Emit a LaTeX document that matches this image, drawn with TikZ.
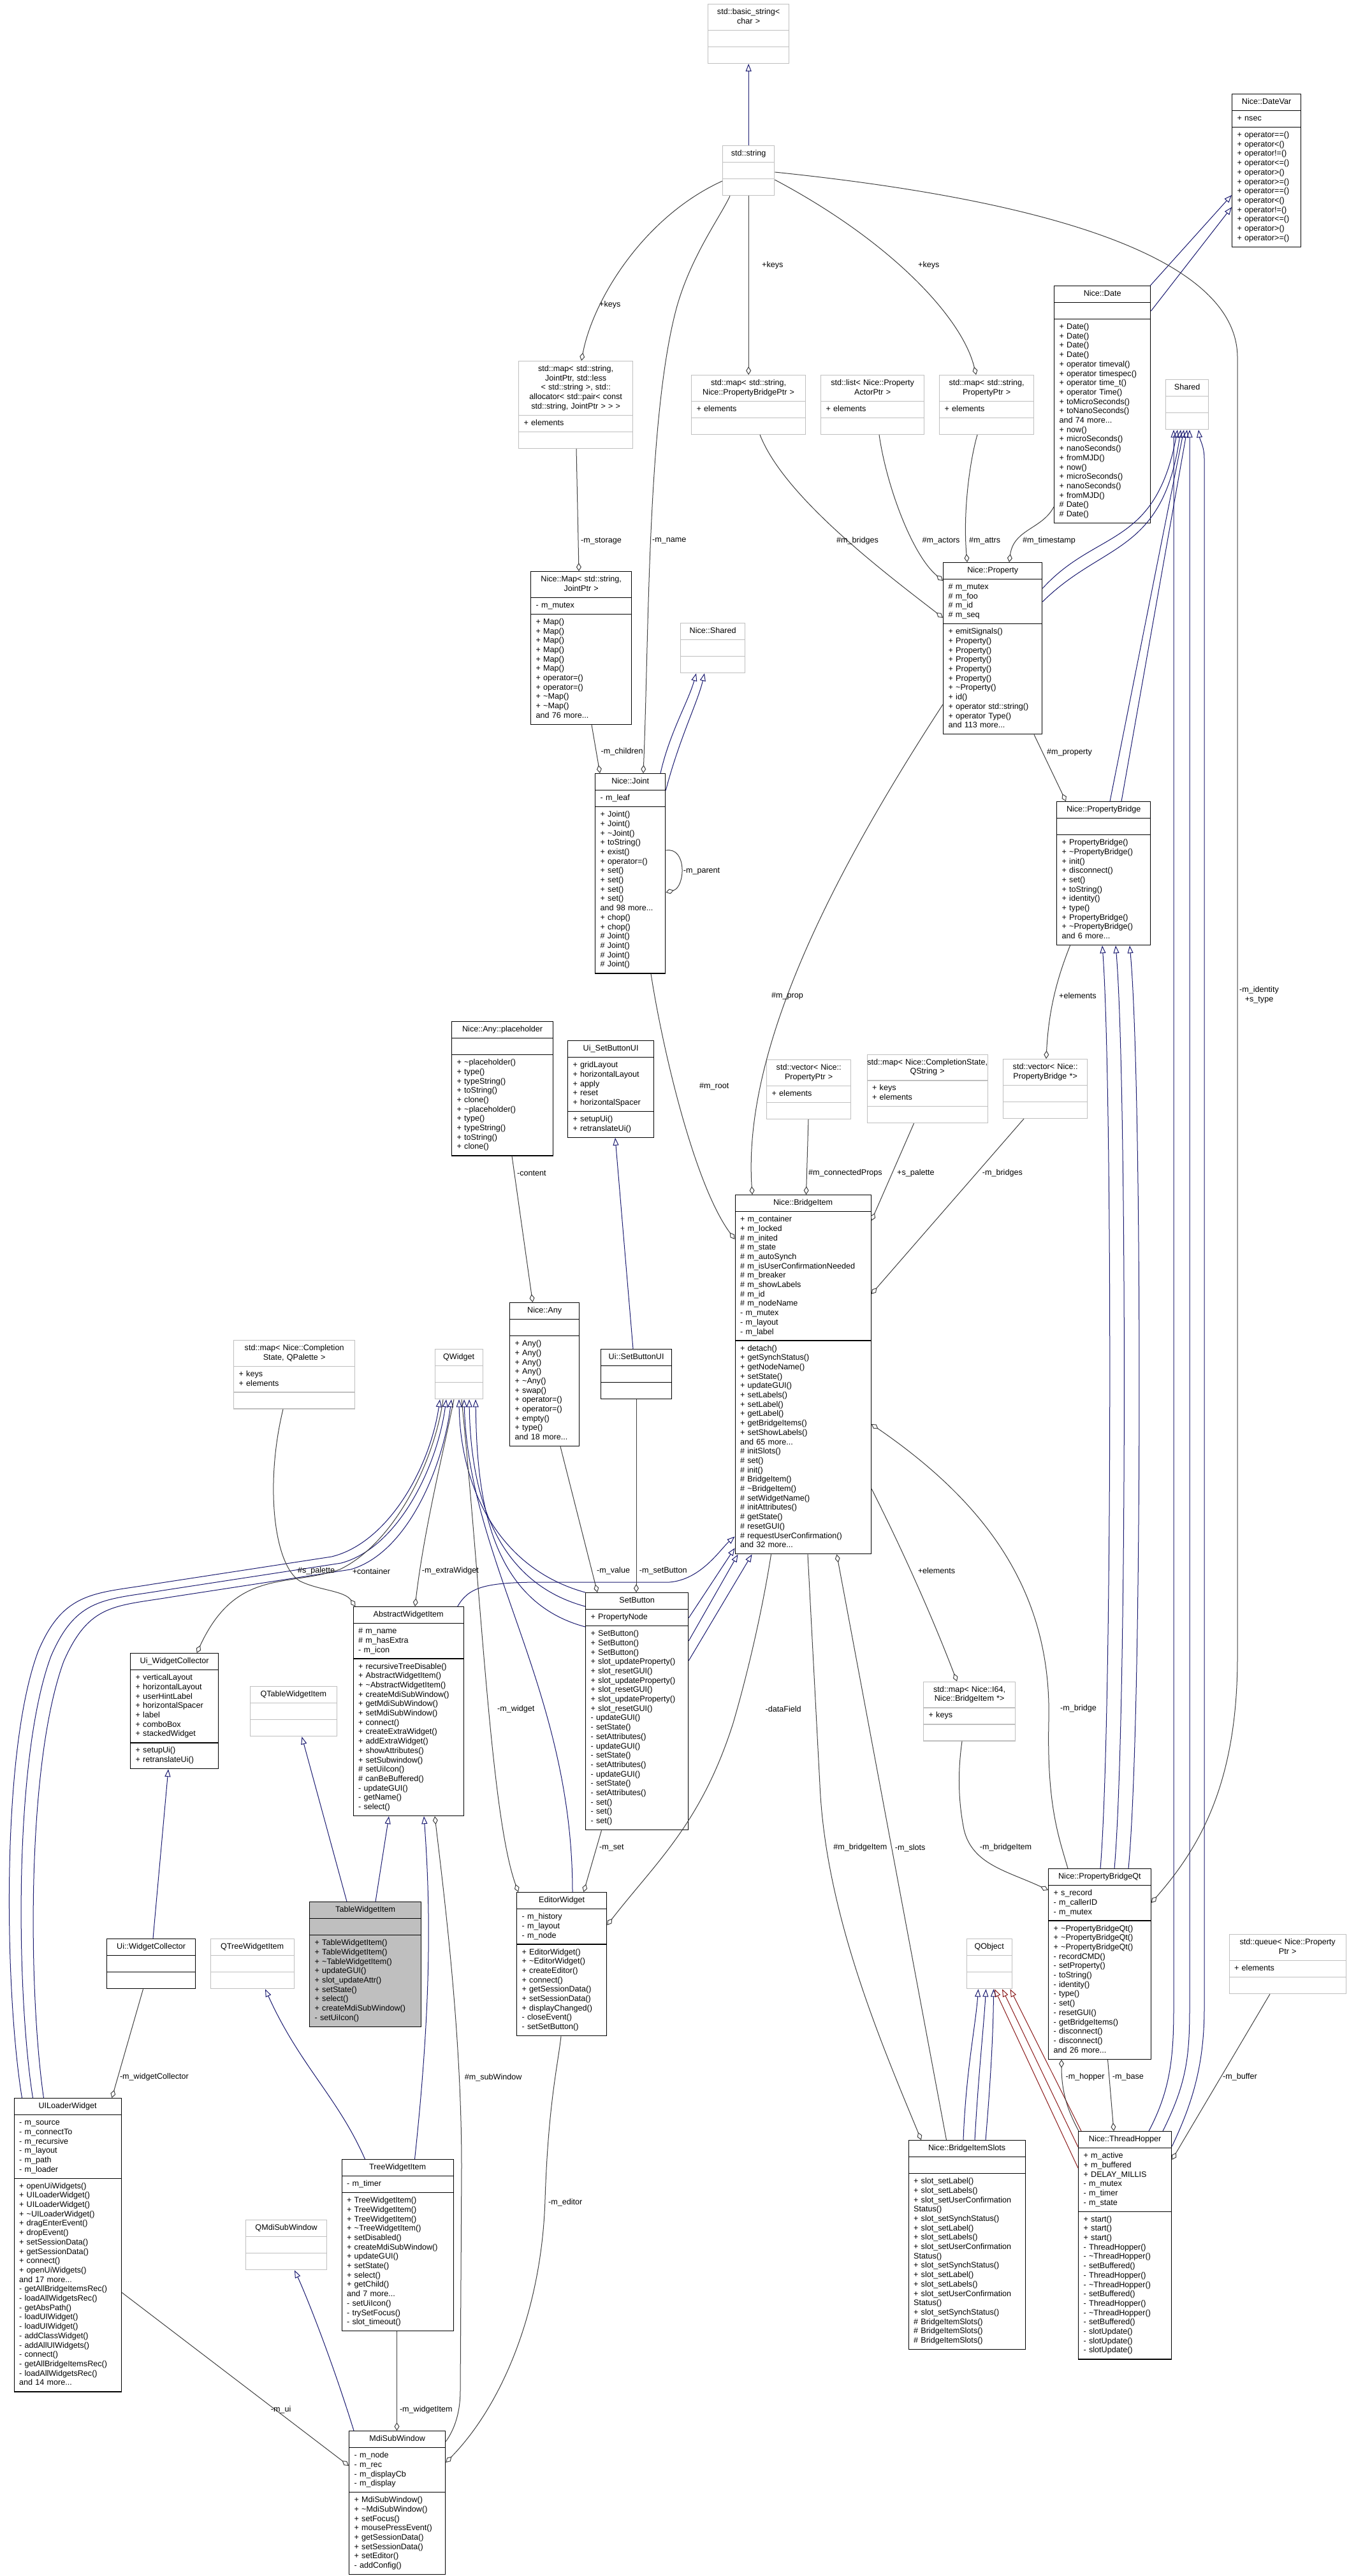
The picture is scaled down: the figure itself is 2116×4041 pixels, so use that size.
\documentclass[tikz,border=0pt]{standalone}
\usepackage{fontspec}
\setmainfont{Liberation Sans}
\usetikzlibrary{shapes.multipart}
\usetikzlibrary{arrows.meta}
\usetikzlibrary{calc}

\definecolor{grey75}{RGB}{191,191,191}
\definecolor{grey25}{RGB}{64,64,64}
\definecolor{midnightblue}{RGB}{25,25,112}
\definecolor{firebrick}{RGB}{139,26,26}
\newcommand{\cfont}{\fontsize{12.6}{14.7}\selectfont}
\newcommand{\tld}{\textasciitilde}
\newcommand{\hd}[1]{\makebox[\linewidth]{#1}}

\begin{document}
\begin{tikzpicture}[x=1pt, y=-1pt, font=\cfont]
\tikzset{
    cls/.style = {rectangle split, rectangle split parts=3, draw=black, line width=1.3pt,
        anchor=north west, text width=#1, align=left, inner xsep=8pt, inner ysep=5pt,
        execute at begin node=\strut, execute at end node=\strut},
    ext/.style = {cls=#1, draw=grey75},
    cur/.style = {cls=#1, fill=grey75},
    inh/.style = {-{Triangle[open,length=12pt,width=9pt]}, draw=midnightblue, line width=1pt},
    prv/.style = {-{Triangle[open,length=12pt,width=9pt]}, draw=firebrick, line width=1pt},
    use/.style = {{Diamond[open,length=13pt,width=8pt]}-, draw=grey25, line width=1pt},
    lbl/.style = {anchor=west, inner sep=0pt}
}
\fill[white] (0,0) rectangle (2116,4041);
\useasboundingbox (0,0) rectangle (2116,4041);

\node[ext=111pt] (basicstr) at (1110,6) {\hd{std::basic\_string<}\\\hd{char >}\nodepart{two}\nodepart{three}};
\node[ext=65pt] (stdstr) at (1133,228) {\hd{std::string}\nodepart{two}\nodepart{three}};
\node[cls=92pt] (datevar) at (1932,147) {\hd{Nice::DateVar}\nodepart{two}+ nsec\nodepart{three}+ operator==()\\+ operator<()\\+ operator!=()\\+ operator<=()\\+ operator>()\\+ operator>=()\\+ operator==()\\+ operator<()\\+ operator!=()\\+ operator<=()\\+ operator>()\\+ operator>=()};
\node[cls=135pt] (date) at (1653,448) {\hd{Nice::Date}\nodepart{two}\nodepart{three}+ Date()\\+ Date()\\+ Date()\\+ Date()\\+ operator timeval()\\+ operator timespec()\\+ operator time\_t()\\+ operator Time()\\+ toMicroSeconds()\\+ toNanoSeconds()\\and 74 more...\\+ now()\\+ microSeconds()\\+ nanoSeconds()\\+ fromMJD()\\+ now()\\+ microSeconds()\\+ nanoSeconds()\\+ fromMJD()\\\# Date()\\\# Date()};
\node[ext=51pt] (shared) at (1828,595) {\hd{Shared}\nodepart{two}\nodepart{three}};
\node[ext=163pt] (mapjoint) at (813,566) {\hd{std::map< std::string,}\\\hd{JointPtr, std::less}\\\hd{< std::string >, std::}\\\hd{allocator< std::pair< const}\\\hd{std::string, JointPtr > > >}\nodepart{two}+ elements\nodepart{three}};
\node[ext=163pt] (mappb) at (1084,588) {\hd{std::map< std::string,}\\\hd{Nice::PropertyBridgePtr >}\nodepart{two}+ elements\nodepart{three}};
\node[ext=146pt] (listact) at (1287,588) {\hd{std::list< Nice::Property}\\\hd{ActorPtr >}\nodepart{two}+ elements\nodepart{three}};
\node[ext=132pt] (mapprop) at (1473,588) {\hd{std::map< std::string,}\\\hd{PropertyPtr >}\nodepart{two}+ elements\nodepart{three}};
\node[cls=142pt] (nicemap) at (832,896) {\hd{Nice::Map< std::string,}\\\hd{JointPtr >}\nodepart{two}- m\_mutex\nodepart{three}+ Map()\\+ Map()\\+ Map()\\+ Map()\\+ Map()\\+ Map()\\+ operator=()\\+ operator=()\\+ \tld Map()\\+ \tld Map()\\and 76 more...};
\node[ext=85pt] (nshared) at (1067,977) {\hd{Nice::Shared}\nodepart{two}\nodepart{three}};
\node[cls=139pt] (property) at (1479,882) {\hd{Nice::Property}\nodepart{two}\# m\_mutex\\\# m\_foo\\\# m\_id\\\# m\_seq\nodepart{three}+ emitSignals()\\+ Property()\\+ Property()\\+ Property()\\+ Property()\\+ Property()\\+ \tld Property()\\+ id()\\+ operator std::string()\\+ operator Type()\\and 113 more...};
\node[cls=94pt] (joint) at (933,1213) {\hd{Nice::Joint}\nodepart{two}- m\_leaf\nodepart{three}+ Joint()\\+ Joint()\\+ \tld Joint()\\+ toString()\\+ exist()\\+ operator=()\\+ set()\\+ set()\\+ set()\\+ set()\\and 98 more...\\+ chop()\\+ chop()\\\# Joint()\\\# Joint()\\\# Joint()\\\# Joint()};
\node[cls=131pt] (pbridge) at (1657,1257) {\hd{Nice::PropertyBridge}\nodepart{two}\nodepart{three}+ PropertyBridge()\\+ \tld PropertyBridge()\\+ init()\\+ disconnect()\\+ set()\\+ toString()\\+ identity()\\+ type()\\+ PropertyBridge()\\+ \tld PropertyBridge()\\and 6 more...};
\node[cls=143pt] (phold) at (708,1602) {\hd{Nice::Any::placeholder}\nodepart{two}\nodepart{three}+ \tld placeholder()\\+ type()\\+ typeString()\\+ toString()\\+ clone()\\+ \tld placeholder()\\+ type()\\+ typeString()\\+ toString()\\+ clone()};
\node[cls=119pt] (sbui) at (890,1632) {\hd{Ui\_SetButtonUI}\nodepart{two}+ gridLayout\\+ horizontalLayout\\+ apply\\+ reset\\+ horizontalSpacer\nodepart{three}+ setupUi()\\+ retranslateUi()};
\node[ext=116pt] (vecprop) at (1202,1662) {\hd{std::vector< Nice::}\\\hd{PropertyPtr >}\nodepart{two}+ elements\nodepart{three}};
\node[ext=173pt] (mapcsqs) at (1359.5,1653.5) {\hd{std::map< Nice::CompletionState,}\\\hd{QString >}\nodepart{two}+ keys\\+ elements\nodepart{three}};
\node[ext=116pt] (vecpb) at (1573,1661) {\hd{std::vector< Nice::}\\\hd{PropertyBridge *>}\nodepart{two}\nodepart{three}};
\node[cls=197pt] (bitem) at (1152.5,1874) {\hd{Nice::BridgeItem}\nodepart{two}+ m\_container\\+ m\_locked\\\# m\_inited\\\# m\_state\\\# m\_autoSynch\\\# m\_isUserConfirmationNeeded\\\# m\_breaker\\\# m\_showLabels\\\# m\_id\\\# m\_nodeName\\- m\_mutex\\- m\_layout\\- m\_label\nodepart{three}+ detach()\\+ getSynchStatus()\\+ getNodeName()\\+ setState()\\+ updateGUI()\\+ setLabels()\\+ setLabel()\\+ getLabel()\\+ getBridgeItems()\\+ setShowLabels()\\and 65 more...\\\# initSlots()\\\# set()\\\# init()\\\# BridgeItem()\\\# \tld BridgeItem()\\\# setWidgetName()\\\# initAttributes()\\\# getState()\\\# resetGUI()\\\# requestUserConfirmation()\\and 32 more...};
\node[cls=93pt] (nany) at (799,2043) {\hd{Nice::Any}\nodepart{two}\nodepart{three}+ Any()\\+ Any()\\+ Any()\\+ Any()\\+ \tld Any()\\+ swap()\\+ operator=()\\+ operator=()\\+ empty()\\+ type()\\and 18 more...};
\node[cls=95pt] (sbuins) at (942,2116) {\hd{Ui::SetButtonUI}\nodepart{two}\nodepart{three}};
\node[ext=174pt] (mapcsqp) at (366,2102) {\hd{std::map< Nice::Completion}\\\hd{State, QPalette >}\nodepart{two}+ keys\\+ elements\nodepart{three}};
\node[ext=59pt] (qwidget) at (681.5,2116) {\hd{QWidget}\nodepart{two}\nodepart{three}};
\node[cls=157pt] (awi) at (553.5,2520) {\hd{AbstractWidgetItem}\nodepart{two}\# m\_name\\\# m\_hasExtra\\- m\_icon\nodepart{three}+ recursiveTreeDisable()\\+ AbstractWidgetItem()\\+ \tld AbstractWidgetItem()\\+ createMdiSubWindow()\\+ getMdiSubWindow()\\+ setMdiSubWindow()\\+ connect()\\+ createExtraWidget()\\+ addExtraWidget()\\+ showAttributes()\\+ setSubwindow()\\\# setUiIcon()\\\# canBeBuffered()\\- updateGUI()\\- getName()\\- select()};
\node[cls=122pt] (uwc) at (204,2593) {\hd{Ui\_WidgetCollector}\nodepart{two}+ verticalLayout\\+ horizontalLayout\\+ userHintLabel\\+ horizontalSpacer\\+ label\\+ comboBox\\+ stackedWidget\nodepart{three}+ setupUi()\\+ retranslateUi()};
\node[ext=119.5pt] (qtable) at (392,2645) {\hd{QTableWidgetItem}\nodepart{two}\nodepart{three}};
\node[cls=145pt] (setbtn) at (918,2498) {\hd{SetButton}\nodepart{two}+ PropertyNode\nodepart{three}+ SetButton()\\+ SetButton()\\+ SetButton()\\+ slot\_updateProperty()\\+ slot\_resetGUI()\\+ slot\_updateProperty()\\+ slot\_resetGUI()\\+ slot\_updateProperty()\\+ slot\_resetGUI()\\- updateGUI()\\- setState()\\- setAttributes()\\- updateGUI()\\- setState()\\- setAttributes()\\- updateGUI()\\- setState()\\- setAttributes()\\- set()\\- set()\\- set()};
\node[ext=128pt] (mapi64) at (1448,2637.5) {\hd{std::map< Nice::I64,}\\\hd{Nice::BridgeItem *>}\nodepart{two}+ keys\nodepart{three}};
\node[cur=159pt] (tablewi) at (485,2983) {\hd{TableWidgetItem}\nodepart{two}\nodepart{three}+ TableWidgetItem()\\+ TableWidgetItem()\\+ \tld TableWidgetItem()\\+ updateGUI()\\+ slot\_updateAttr()\\+ setState()\\+ select()\\+ createMdiSubWindow()\\- setUiIcon()};
\node[cls=125pt] (editor) at (810,2968) {\hd{EditorWidget}\nodepart{two}- m\_history\\- m\_layout\\- m\_node\nodepart{three}+ EditorWidget()\\+ \tld EditorWidget()\\+ createEditor()\\+ connect()\\+ getSessionData()\\+ setSessionData()\\+ displayChanged()\\- closeEvent()\\- setSetButton()};
\node[cls=123pt] (uwcns) at (167,3041) {\hd{Ui::WidgetCollector}\nodepart{two}\nodepart{three}};
\node[ext=115pt] (qtree) at (329.5,3041) {\hd{QTreeWidgetItem}\nodepart{two}\nodepart{three}};
\node[cls=144.5pt] (pbqt) at (1644,2931) {\hd{Nice::PropertyBridgeQt}\nodepart{two}+ s\_record\\- m\_callerID\\- m\_mutex\nodepart{three}+ \tld PropertyBridgeQt()\\+ \tld PropertyBridgeQt()\\+ \tld PropertyBridgeQt()\\- recordCMD()\\- setProperty()\\- toString()\\- identity()\\- type()\\- set()\\- resetGUI()\\- getBridgeItems()\\- disconnect()\\- disconnect()\\and 26 more...};
\node[ext=55pt] (qobject) at (1515.5,3041) {\hd{QObject}\nodepart{two}\nodepart{three}};
\node[ext=167pt] (queue) at (1927.5,3034) {\hd{std::queue< Nice::Property}\\\hd{Ptr >}\nodepart{two}+ elements\nodepart{three}};
\node[cls=152pt] (uiload) at (21.5,3291) {\hd{UILoaderWidget}\nodepart{two}- m\_source\\- m\_connectTo\\- m\_recursive\\- m\_layout\\- m\_path\\- m\_loader\nodepart{three}+ openUiWidgets()\\+ UILoaderWidget()\\+ UILoaderWidget()\\+ \tld UILoaderWidget()\\+ dragEnterEvent()\\+ dropEvent()\\+ setSessionData()\\+ getSessionData()\\+ connect()\\+ openUiWidgets()\\and 17 more...\\- getAllBridgeItemsRec()\\- loadAllWidgetsRec()\\- getAbsPath()\\- loadUIWidget()\\- loadUIWidget()\\- addClassWidget()\\- addAllUIWidgets()\\- connect()\\- getAllBridgeItemsRec()\\- loadAllWidgetsRec()\\and 14 more...};
\node[cls=159pt] (treewi) at (535.5,3387) {\hd{TreeWidgetItem}\nodepart{two}- m\_timer\nodepart{three}+ TreeWidgetItem()\\+ TreeWidgetItem()\\+ TreeWidgetItem()\\+ \tld TreeWidgetItem()\\+ setDisabled()\\+ createMdiSubWindow()\\+ updateGUI()\\+ setState()\\+ select()\\+ getChild()\\and 7 more...\\- setUiIcon()\\- trySetFocus()\\- slot\_timeout()};
\node[ext=111pt] (qmdi) at (385,3482) {\hd{QMdiSubWindow}\nodepart{two}\nodepart{three}};
\node[cls=167pt] (bis) at (1424.5,3357) {\hd{Nice::BridgeItemSlots}\nodepart{two}\nodepart{three}+ slot\_setLabel()\\+ slot\_setLabels()\\+ slot\_setUserConfirmation\\Status()\\+ slot\_setSynchStatus()\\+ slot\_setLabel()\\+ slot\_setLabels()\\+ slot\_setUserConfirmation\\Status()\\+ slot\_setSynchStatus()\\+ slot\_setLabel()\\+ slot\_setLabels()\\+ slot\_setUserConfirmation\\Status()\\+ slot\_setSynchStatus()\\\# BridgeItemSlots()\\\# BridgeItemSlots()\\\# BridgeItemSlots()};
\node[cls=130pt] (thop) at (1691,3343) {\hd{Nice::ThreadHopper}\nodepart{two}+ m\_active\\+ m\_buffered\\+ DELAY\_MILLIS\\- m\_mutex\\- m\_timer\\- m\_state\nodepart{three}+ start()\\+ start()\\+ start()\\- ThreadHopper()\\- \tld ThreadHopper()\\- setBuffered()\\- ThreadHopper()\\- \tld ThreadHopper()\\- setBuffered()\\- ThreadHopper()\\- \tld ThreadHopper()\\- setBuffered()\\- slotUpdate()\\- slotUpdate()\\- slotUpdate()};
\node[cls=135pt] (mdisub) at (547,3813) {\hd{MdiSubWindow}\nodepart{two}- m\_node\\- m\_rec\\- m\_displayCb\\- m\_display\nodepart{three}+ MdiSubWindow()\\+ \tld MdiSubWindow()\\+ setFocus()\\+ mousePressEvent()\\+ getSessionData()\\+ setSessionData()\\+ setEditor()\\- addConfig()};

\draw[inh] (stdstr.north) -- (basicstr.south);
\draw[inh] ($(date.north east)+(-1,0)$) -- ($(datevar.north west)+(0,159)$);
\draw[inh] ($(date.north east)+(0,40)$) -- ($(datevar.north west)+(0,178)$);
\draw[inh] ($(property.north east)+(0,41)$) .. controls (1720,830) and (1812,860) .. ($(shared.south west)+(19,0)$);
\draw[inh] ($(property.north east)+(0,62)$) .. controls (1730,850) and (1824,870) .. ($(shared.south west)+(24,0)$);
\draw[inh] ($(pbridge.north west)+(84,0)$) -- ($(shared.south west)+(29,0)$);
\draw[inh] ($(pbridge.north west)+(102,0)$) -- ($(shared.south west)+(34,0)$);
\draw[inh] ($(thop.north west)+(111,0)$) .. controls (1835,3280) and (1841,3230) .. (1841,3150) -- ($(shared.south west)+(13,0)$);
\draw[inh] ($(thop.north west)+(133,0)$) .. controls (1860,3270) and (1866,3230) .. (1866,3150) -- ($(shared.south west)+(38,0)$);
\draw[inh] ($(thop.north east)+(0,24)$) .. controls (1870,3300) and (1889,3240) .. (1889,3150) -- (1889,720) .. controls (1889,700) and (1882,690) .. ($(shared.south west)+(52,0)$);
\draw[inh] ($(joint.north west)+(103,0)$) .. controls (1050,1150) and (1080,1100) .. ($(nshared.south west)+(25,0)$);
\draw[inh] ($(joint.north east)+(0,27)$) .. controls (1065,1160) and (1095,1100) .. ($(nshared.south west)+(38,0)$);
\draw[inh] ($(pbqt.north west)+(82,0)$) .. controls (1745,2700) and (1745,1700) .. ($(pbridge.south west)+(72,0)$);
\draw[inh] ($(pbqt.north west)+(104,0)$) .. controls (1768,2700) and (1768,1700) .. ($(pbridge.south west)+(93,0)$);
\draw[inh] ($(pbqt.north west)+(126,0)$) .. controls (1792,2700) and (1792,1700) .. ($(pbridge.south west)+(115,0)$);
\draw[inh] ($(sbuins.north west)+(51,0)$) -- ($(sbui.south west)+(75,0)$);
\draw[inh] ($(uiload.north west)+(13,0)$) .. controls (8,3130) and (0,2750) .. (60,2590) .. controls (100,2495) and (150,2500) .. (240,2485) -- (520,2442) .. controls (610,2420) and (675,2300) .. ($(qwidget.south west)+(8.5,0)$);
\draw[inh] ($(uiload.north west)+(30,0)$) .. controls (26,3130) and (20,2760) .. (80,2598) .. controls (120,2505) and (165,2510) .. (255,2495) -- (535,2452) .. controls (625,2428) and (686,2300) .. ($(qwidget.south west)+(18.5,0)$);
\draw[inh] ($(uiload.north west)+(47,0)$) .. controls (45,3130) and (40,2770) .. (100,2606) .. controls (140,2515) and (180,2520) .. (270,2505) -- (550,2462) .. controls (640,2436) and (695,2300) .. ($(qwidget.south west)+(26.5,0)$);
\draw[inh] (setbtn.north west) .. controls (780,2460) and (722,2330) .. ($(qwidget.south west)+(38.5,0)$);
\draw[inh] ($(setbtn.north west)+(0,22)$) .. controls (770,2480) and (738,2330) .. ($(qwidget.south west)+(54.5,0)$);
\draw[inh] ($(setbtn.north west)+(0,54)$) .. controls (760,2510) and (748,2330) .. ($(qwidget.south west)+(64.5,0)$);
\draw[inh] ($(editor.north west)+(88,0)$) .. controls (898,2650) and (735,2450) .. ($(qwidget.south west)+(46.5,0)$);
\draw[inh] ($(awi.north east)+(-10,0)$) .. controls (735,2490) and (760,2482) .. (850,2482) -- (1050,2482) .. controls (1100,2478) and (1130,2430) .. ($(bitem.south west)+(0,-28)$);
\draw[inh] ($(setbtn.north east)+(0,40)$) -- ($(bitem.south west)+(0,-10)$);
\draw[inh] ($(setbtn.north east)+(0,76)$) -- ($(bitem.south west)+(5,0)$);
\draw[inh] ($(setbtn.north east)+(0,107)$) -- ($(bitem.south west)+(27,0)$);
\draw[inh] ($(treewi.north west)+(115,0)$) .. controls (676,3150) and (676,3000) .. ($(awi.south west)+(111.5,0)$);
\draw[inh] ($(tablewi.north west)+(104,0)$) -- ($(awi.south west)+(56.5,0)$);
\draw[inh] ($(tablewi.north west)+(59,0)$) -- ($(qtable.south west)+(81.5,0)$);
\draw[inh] ($(treewi.north west)+(37,0)$) .. controls (530,3290) and (470,3240) .. ($(qtree.south west)+(86.5,0)$);
\draw[inh] ($(uwcns.north west)+(73,0)$) -- ($(uwc.south west)+(60,0)$);
\draw[inh] ($(mdisub.north west)+(8,0)$) .. controls (520,3700) and (480,3600) .. ($(qmdi.south west)+(77,0)$);
\draw[inh] ($(bis.north west)+(86.5,0)$) .. controls (1515,3250) and (1530,3180) .. ($(qobject.south west)+(19,0)$);
\draw[inh] ($(bis.north west)+(104.5,0)$) .. controls (1535,3250) and (1543,3180) .. ($(qobject.south west)+(31,0)$);
\draw[inh] ($(bis.north west)+(121.5,0)$) .. controls (1555,3250) and (1558,3180) .. ($(qobject.south west)+(43,0)$);
\draw[prv] ($(thop.north west)+(5,0)$) -- ($(qobject.south west)+(69,0)$);
\draw[prv] ($(thop.north west)+(0,25)$) -- ($(qobject.south west)+(56.5,0)$);
\draw[prv] ($(thop.north west)+(0,58)$) -- ($(qobject.south west)+(44.5,0)$);

\draw[use] ($(mapjoint.north west)+(99,0)$) .. controls (930,470) and (1010,340) .. ($(stdstr.north west)+(0,56)$);
\draw[use] (mappb.north) -- (stdstr.south);
\draw[use] ($(mapprop.north west)+(58,0)$) .. controls (1510,500) and (1400,380) .. ($(stdstr.north east)+(0,54)$);
\draw[use] ($(joint.north west)+(76,0)$) .. controls (1018,1000) and (1015,650) .. (1062,480) .. controls (1085,400) and (1130,340) .. ($(stdstr.south west)+(12,0)$);
\draw[use] ($(pbqt.north east)+(0,54)$) .. controls (1880,2900) and (1941,2800) .. (1941,2600) -- (1941,560) .. controls (1940,420) and (1700,320) .. ($(stdstr.north east)+(0,42)$);
\draw[use] ($(nicemap.north west)+(76,0)$) -- ($(mapjoint.south west)+(91,0)$);
\draw[use] ($(joint.north west)+(8,0)$) -- ($(nicemap.south west)+(96,0)$);
\draw[use] ($(joint.north east)+(0,187)$) .. controls (1075,1392) and (1078,1328) .. ($(joint.north east)+(0,121)$);
\draw[use] ($(property.north west)+(0,87)$) .. controls (1390,900) and (1230,780) .. ($(mappb.south west)+(108,0)$);
\draw[use] ($(property.north west)+(0,29)$) .. controls (1430,870) and (1390,760) .. ($(listact.south west)+(92,0)$);
\draw[use] ($(property.north west)+(38,0)$) .. controls (1510,800) and (1522,720) .. ($(mapprop.south west)+(60,0)$);
\draw[use] ($(property.north west)+(104,0)$) .. controls (1590,830) and (1635,830) .. ($(date.north west)+(0,347)$);
\draw[use] ($(pbridge.north west)+(15,0)$) -- ($(property.south west)+(143,0)$);
\draw[use] ($(bitem.north west)+(27.5,0)$) .. controls (1165,1650) and (1300,1380) .. ($(property.north west)+(0,223)$);
\draw[use] ($(bitem.north west)+(0,70)$) .. controls (1090,1860) and (1040,1650) .. ($(joint.south west)+(88,0)$);
\draw[use] ($(bitem.north west)+(112,0)$) -- ($(vecprop.south west)+(66,0)$);
\draw[use] ($(bitem.north east)+(0,41)$) -- ($(mapcsqs.south west)+(74,0)$);
\draw[use] ($(bitem.north east)+(0,156)$) -- ($(vecpb.south west)+(33,0)$);
\draw[use] ($(vecpb.north west)+(68,0)$) .. controls (1645,1580) and (1660,1530) .. ($(pbridge.south west)+(21.5,0)$);
\draw[use] ($(nany.north west)+(36.5,0)$) -- ($(phold.south west)+(95,0)$);
\draw[use] ($(setbtn.north west)+(19,0)$) -- ($(nany.south west)+(80,0)$);
\draw[use] ($(setbtn.north west)+(80,0)$) -- ($(sbuins.south west)+(56,0)$);
\draw[use] ($(mapi64.north west)+(53,0)$) .. controls (1460,2530) and (1410,2420) .. ($(bitem.north east)+(0,461)$);
\draw[use] ($(bitem.north east)+(0,360)$) .. controls (1550,2360) and (1650,2500) .. (1645,2700) .. controls (1642,2830) and (1660,2880) .. ($(pbqt.north west)+(31,0)$);
\draw[use] ($(editor.north east)+(0,52)$) .. controls (1030,2920) and (1100,2860) .. (1150,2703) .. controls (1180,2600) and (1200,2500) .. ($(bitem.south west)+(57,0)$);
\draw[use] ($(bis.north west)+(20.5,0)$) .. controls (1380,3200) and (1295,3000) .. (1286,2800) -- ($(bitem.south west)+(114.5,0)$);
\draw[use] ($(bitem.south west)+(160,0)$) -- ($(bis.north west)+(60,0)$);
\draw[use] ($(pbqt.north west)+(0,34)$) .. controls (1580,2935) and (1525,2925) .. (1512,2870) .. controls (1500,2810) and (1505,2760) .. ($(mapi64.south west)+(61,0)$);
\draw[use] ($(pbqt.south west)+(21,0)$) .. controls (1665,3290) and (1680,3320) .. ($(thop.north west)+(1,0)$);
\draw[use] ($(thop.north west)+(56,0)$) -- ($(pbqt.south west)+(93.5,0)$);
\draw[use] ($(thop.north east)+(0,45)$) -- ($(queue.south west)+(64.5,0)$);
\draw[use] ($(awi.north west)+(97.5,0)$) .. controls (665,2400) and (695,2280) .. ($(qwidget.south west)+(30.5,0)$);
\draw[use] ($(uwc.north west)+(104.7,0)$) .. controls (370,2460) and (450,2490) .. (533,2462) .. controls (620,2420) and (682,2290) .. ($(qwidget.south west)+(13.5,0)$);
\draw[use] ($(awi.north west)+(4,0)$) .. controls (540,2495) and (500,2495) .. (470,2480) .. controls (430,2455) and (415,2330) .. ($(mapcsqp.south west)+(78,0)$);
\draw[use] ($(editor.north west)+(3,0)$) .. controls (770,2850) and (755,2500) .. ($(qwidget.south west)+(42.5,0)$);
\draw[use] ($(editor.north west)+(105.5,0)$) -- ($(setbtn.south west)+(25.5,0)$);
\draw[use] ($(uiload.north west)+(154,0)$) -- ($(uwcns.south west)+(57.5,0)$);
\draw[use] ($(mdisub.north west)+(0,55)$) -- ($(uiload.north east)+(0,305)$);
\draw[use] ($(mdisub.north west)+(75.5,0)$) -- ($(treewi.south west)+(87,0)$);
\draw[use] ($(awi.south west)+(128.5,0)$) .. controls (700,3000) and (724,3200) .. (724,3400) -- (722,3750) .. controls (722,3790) and (710,3815) .. ($(mdisub.north east)+(0,17)$);
\draw[use] ($(mdisub.north east)+(0,50)$) .. controls (790,3770) and (850,3620) .. (855,3450) .. controls (860,3300) and (875,3240) .. ($(editor.south west)+(70,0)$);

\node[lbl] (lkeysa) at (940,478) {+keys};
\node[lbl] (lkeysb) at (1195,416) {+keys};
\node[lbl] (lkeysc) at (1440,416) {+keys};
\node[lbl] (lstorage) at (911,848.5) {-m\_storage};
\node[lbl] (lname) at (1023,848.5) {-m\_name};
\node[lbl] (lbridges) at (1312,848.5) {\#m\_bridges};
\node[lbl] (lactors) at (1446.5,848.5) {\#m\_actors};
\node[lbl] (lattrs) at (1520,848.5) {\#m\_attrs};
\node[lbl] (lstamp) at (1604,848.5) {\#m\_timestamp};
\node[lbl] (lchildren) at (942.5,1179.6) {-m\_children};
\node[lbl] (lparent) at (1071.6,1366.6) {-m\_parent};
\node[lbl] (lproperty) at (1642,1180) {\#m\_property};
\node[lbl] (lprop) at (1210,1562) {\#m\_prop};
\node[lbl] (lelemsa) at (1661,1561.6) {+elements};
\node[align=center, inner sep=0pt] (lident) at (1975,1561) {-m\_identity\\+s\_type};
\node[lbl] (lcontent) at (811,1840.6) {-content};
\node[lbl] (lroot) at (1097,1704) {\#m\_root};
\node[lbl] (lconn) at (1268,1840.5) {\#m\_connectedProps};
\node[lbl] (lspal) at (1407,1840.3) {+s\_palette};
\node[lbl] (lbridgesb) at (1540.6,1840.3) {-m\_bridges};
\node[lbl] (lvalue) at (936,2464) {-m\_value};
\node[lbl] (lsetbtn) at (1002.6,2464) {-m\_setButton};
\node[lbl] (lspalb) at (466.8,2464.6) {\#s\_palette};
\node[lbl] (lcontainer) at (552.6,2464.6) {+container};
\node[lbl] (lextra) at (661.7,2464.6) {-m\_extraWidget};
\node[lbl] (lelemsb) at (1439.6,2464) {+elements};
\node[lbl] (lwidget) at (780,2681.7) {-m\_widget};
\node[lbl] (ldata) at (1200.5,2680.7) {-dataField};
\node[lbl] (lbridge) at (1663,2680.7) {-m\_bridge};
\node[lbl] (lset) at (940,2899) {-m\_set};
\node[anchor=east, inner sep=0pt] (lbitem) at (1391.5,2898.7) {\#m\_bridgeItem};
\node[lbl] (lslots) at (1403.7,2898.7) {-m\_slots};
\node[lbl] (lbitemb) at (1536.6,2898.7) {-m\_bridgeItem};
\node[lbl] (lwcoll) at (187.8,3258.7) {-m\_widgetCollector};
\node[lbl] (lsubwin) at (728.6,3258.7) {\#m\_subWindow};
\node[lbl] (lhopper) at (1671.4,3258.6) {-m\_hopper};
\node[lbl] (lbase) at (1744.7,3258.6) {-m\_base};
\node[lbl] (lbuffer) at (1918,3258.6) {-m\_buffer};
\node[lbl] (lui) at (424.6,3780) {-m\_ui};
\node[lbl] (lwitem) at (626.8,3780) {-m\_widgetItem};
\node[lbl] (leditor) at (860,3455) {-m\_editor};
\end{tikzpicture}
\end{document}
